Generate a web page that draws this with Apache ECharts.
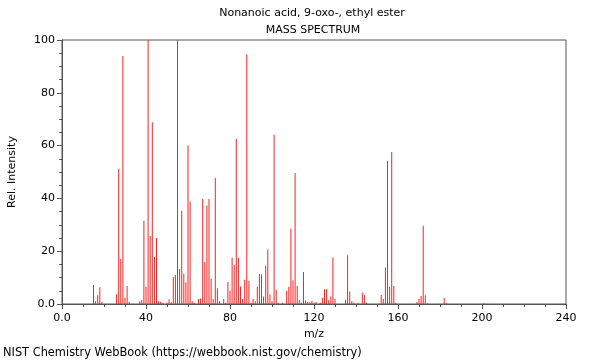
<!DOCTYPE html>
<html><head><meta charset="utf-8">
<script src="https://cdn.jsdelivr.net/npm/echarts@6/dist/echarts.min.js"></script>
<style>html,body{margin:0;padding:0;background:#fff}#c{width:600px;height:360px}</style>
</head><body><div id="c"></div>
<script>
const titleText = "Nonanoic acid, 9-oxo-, ethyl ester";
const subtitleText = "MASS SPECTRUM";
const footerText = "NIST Chemistry WebBook (https://webbook.nist.gov/chemistry)";
const xName = "m/z";
const yName = "Rel. Intensity";
const mz = [15,16,17,18,19,26,27,28,29,30,31,32,37,38,39,40,41,42,43,44,45,46,47,48,50,51,52,53,54,55,56,57,58,59,60,61,62,63,65,66,67,68,69,70,71,72,73,74,75,77,78,79,80,81,82,83,84,85,86,87,88,89,90,91,92,93,94,95,96,97,98,99,100,101,102,103,105,107,108,109,110,111,112,113,114,115,116,117,118,119,120,121,123,124,125,126,127,128,129,130,135,136,137,138,139,141,143,144,145,152,153,154,155,156,157,158,159,169,170,171,172,173,174,182,183,201];
const intensity = [7.2,1,3.3,6.3,0.8,3.7,51.1,17,93.9,2.4,6.8,0.8,1,1.5,31.5,6.5,100,25.8,68.8,17.8,25,1,0.8,0.5,0.5,1.8,0.7,10.2,11,99.9,13.3,35.3,11.5,8.1,60,38.8,1,0.5,1.9,2.1,39.8,15.9,37.3,39.8,9.6,1.9,47.8,6,1,1.9,0.5,8.3,5,17.5,14.8,62.5,17.5,6.6,1.9,9.2,94.5,8.8,0.5,1.9,1,6.5,11.4,11.2,2.8,14.5,20.6,3.6,1,64.1,5.4,0.5,0.5,4.9,6.5,28.5,9,49.6,6.8,1.5,0.5,12.1,1.4,0.8,0.7,1.2,0.5,0.8,0.5,2.4,5.6,5.6,1.4,2.8,17.6,2,1.6,18.5,4.7,1,0.5,0.5,4.4,3.4,0.5,3.4,1.9,13.8,54.3,6.5,57.6,6.8,0.5,0.8,1.9,3,29.6,3.3,0.3,2.3,0.3,0.3];

const data = mz.map((m, i) => [m, intensity[i]]);
const font = "DejaVu Sans";
const axisColor = "#555";
const fmt = v => v === 0 ? "0.0" : String(v);
const gl = 62, gr = 34;
const plotCenter = gl + (600 - gl - gr) / 2;

const chart = echarts.init(document.getElementById('c'), null, {renderer: 'canvas'});
chart.setOption({
  animation: false,
  backgroundColor: '#fff',
  textStyle: {fontFamily: font},
  graphic: [
    {type: 'text', x: plotCenter - 2, y: 13, style: {text: titleText, font: '11px "DejaVu Sans"', fill: '#000', align: 'center', verticalAlign: 'middle'}},
    {type: 'text', x: plotCenter - 1, y: 30, style: {text: subtitleText, font: '11px "DejaVu Sans"', fill: '#000', align: 'center', verticalAlign: 'middle'}},
    {type: 'text', x: 3, y: 353, style: {text: footerText, font: '11.4px "DejaVu Sans"', fill: '#000', align: 'left', verticalAlign: 'middle'}}
  ],
  grid: {left: gl, right: gr, top: 40, bottom: 56, outerBoundsMode: 'none', containLabel: false, show: true, borderColor: axisColor, borderWidth: 1, backgroundColor: 'transparent'},
  xAxis: {
    type: 'value', min: 0, max: 240, interval: 40,
    name: xName, nameLocation: 'middle', nameGap: 25,
    nameTextStyle: {fontFamily: font, fontSize: 11, color: '#000'},
    axisLine: {show: true, lineStyle: {color: axisColor}},
    axisTick: {show: true, length: 5, lineStyle: {color: axisColor}},
    minorTick: {show: true, splitNumber: 4, length: 3, lineStyle: {color: axisColor}},
    axisLabel: {formatter: fmt, fontFamily: font, fontSize: 11, color: '#000', margin: 9},
    splitLine: {show: false}
  },
  yAxis: {
    type: 'value', min: 0, max: 100, interval: 20,
    name: yName, nameLocation: 'middle', nameGap: 44, nameRotate: 90,
    nameTextStyle: {fontFamily: font, fontSize: 11, color: '#000'},
    axisLine: {show: true, lineStyle: {color: axisColor}},
    axisTick: {show: true, length: 5, lineStyle: {color: axisColor}},
    minorTick: {show: true, splitNumber: 4, length: 3, lineStyle: {color: axisColor}},
    axisLabel: {formatter: fmt, fontFamily: font, fontSize: 11, color: '#000', margin: 7},
    splitLine: {show: false}
  },
  series: [{
    type: 'bar', data: data, barWidth: 1, barGap: '-100%',
    itemStyle: {color: '#ff2020'},
    emphasis: {disabled: true}
  }]
});
</script></body></html>
